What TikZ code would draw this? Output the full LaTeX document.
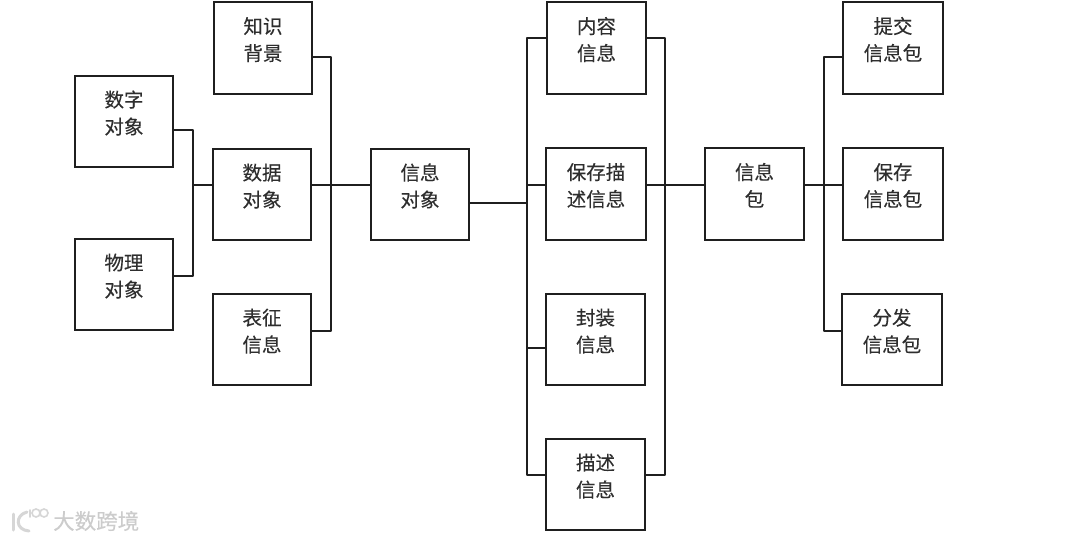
\documentclass[tikz,border=0pt]{standalone}
\usepackage{fontspec}
\setmainfont{Noto Sans CJK SC}[FakeBold=0.25]
\begin{document}
\begin{tikzpicture}[x=1pt,y=-1pt,
  bx/.style={draw=black!88,line width=1.8pt,align=center,inner sep=0pt,font=\fontsize{19.5}{27}\selectfont,text=black!82,text height=30pt,text depth=5pt},
  wd/.style={minimum width=98pt,minimum height=91pt},
  tall/.style={minimum height=92pt},
  ln/.style={draw=black!88,line width=1.6pt,line join=round}]
\useasboundingbox (0,0) rectangle (1080,541);
\fill[white] (0,0) rectangle (1080,541);
\node[bx,wd] (szdx) at (124,121.5) {数字\\对象};
\node[bx,wd] (wldx) at (124,284.5) {物理\\对象};
\node[bx,wd,tall] (zsbj) at (263,48) {知识\\背景};
\node[bx,wd] (sjdx) at (262,194.5) {数据\\对象};
\node[bx,wd] (bzxx) at (262,339.5) {表征\\信息};
\node[bx,wd] (xxdx) at (420,194.5) {信息\\对象};
\node[bx,wd,tall,minimum width=99pt] (nrxx) at (596.5,48) {内容\\信息};
\node[bx,wd,tall,minimum width=100pt] (bcms) at (596,194) {保存描\\述信息};
\node[bx,wd,minimum width=99pt] (fzxx) at (595.5,339.5) {封装\\信息};
\node[bx,wd,minimum width=99pt] (msxx) at (595.5,484.5) {描述\\信息};
\node[bx,wd,tall,minimum width=99pt] (xxb) at (754.5,194) {信息\\包};
\node[bx,wd,tall,minimum width=100pt] (tjb) at (893,48) {提交\\信息包};
\node[bx,wd,tall,minimum width=100pt] (bcb) at (893,194) {保存\\信息包};
\node[bx,wd,minimum width=100pt] (ffb) at (892,339.5) {分发\\信息包};
% left group
\coordinate (a1) at (193,130); \coordinate (a2) at (193,276); \coordinate (a3) at (193,185);
\draw[ln] (szdx.east |- a1) -- (a1) -- (a2) -- (wldx.east |- a2);
\draw[ln] (a3) -- (sjdx.west |- a3);
% second group
\coordinate (b1) at (331,57); \coordinate (b2) at (331,331); \coordinate (b3) at (331,185);
\draw[ln] (zsbj.east |- b1) -- (b1) -- (b2) -- (bzxx.east |- b2);
\draw[ln] (sjdx.east |- b3) -- (xxdx.west |- b3);
% info object to bus
\coordinate (c0) at (527,203); \coordinate (c1) at (527,38); \coordinate (c2) at (527,185); \coordinate (c3) at (527,348); \coordinate (c4) at (527,475);
\draw[ln] (xxdx.east |- c0) -- (c0);
\draw[ln] (nrxx.west |- c1) -- (c1) -- (c4) -- (msxx.west |- c4);
\draw[ln] (c2) -- (bcms.west |- c2);
\draw[ln] (c3) -- (fzxx.west |- c3);
% right bus
\coordinate (d1) at (665,38); \coordinate (d2) at (665,185); \coordinate (d4) at (665,475);
\draw[ln] (nrxx.east |- d1) -- (d1) -- (d4) -- (msxx.east |- d4);
\draw[ln] (bcms.east |- d2) -- (xxb.west |- d2);
% package bus
\coordinate (e1) at (824,57); \coordinate (e2) at (824,185); \coordinate (e3) at (824,331);
\draw[ln] (tjb.west |- e1) -- (e1) -- (e3) -- (ffb.west |- e3);
\draw[ln] (xxb.east |- e2) -- (bcb.west |- e2);
% watermark
\node[inner sep=0pt,anchor=west,font=\fontsize{21.5}{22}\selectfont,text=black!20] (wm) at (53,521) {大数跨境};
\draw[black!16,line width=3pt,line cap=round] (13,514) -- (13,530);
\draw[black!16,line width=3pt,line cap=round] (27,512) .. controls (15,515) and (15,530) .. (29,531);
\draw[black!16,line width=1.6pt] (36,513) circle[radius=4] (44,513) circle[radius=4];
\draw[black!16,line width=1.6pt,line cap=round] (30,510) -- (30,517);
\end{tikzpicture}
\end{document}
